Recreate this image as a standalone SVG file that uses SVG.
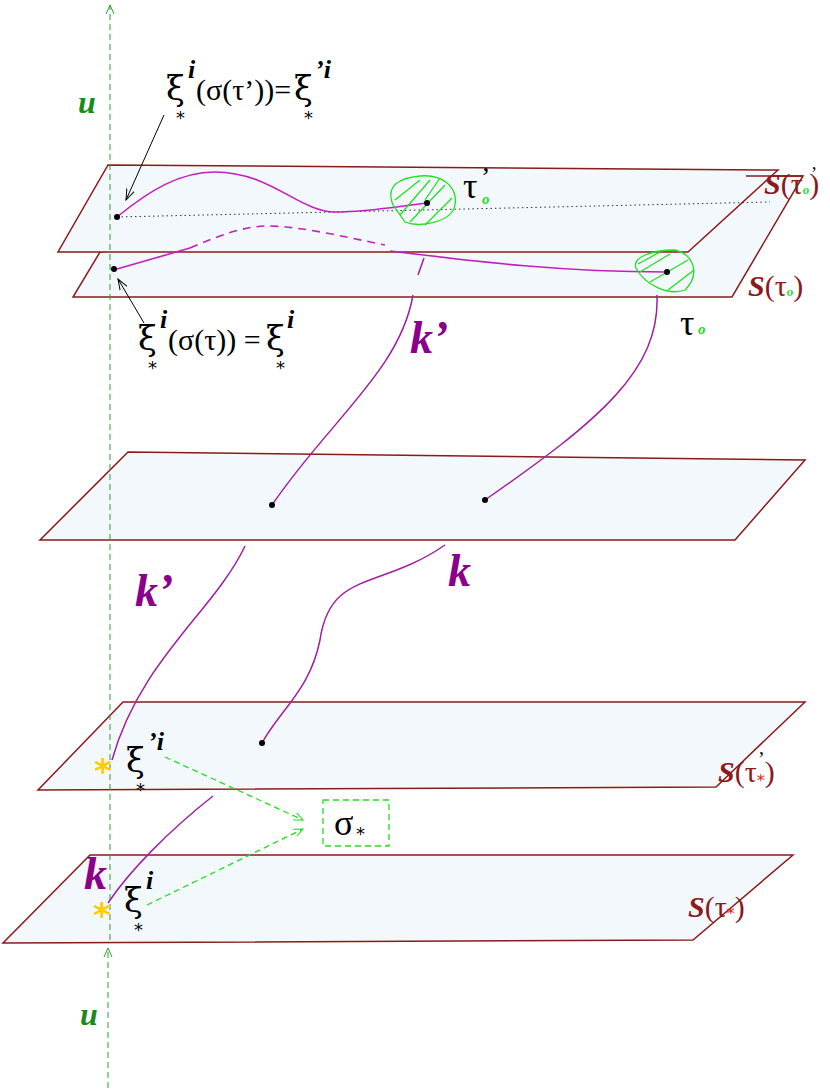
<svg xmlns="http://www.w3.org/2000/svg" width="830" height="1090" viewBox="0 0 830 1090">
<style>
.pl{fill:#f3f8fc;stroke:#8b1a1a;stroke-width:1.5}
.cv{fill:none;stroke:#a020a0;stroke-width:1.5}
.cv2{fill:none;stroke:#c020c0;stroke-width:1.6}
.ax{stroke:#2ca02c;stroke-width:1;stroke-dasharray:6 4;fill:none}
.gd{stroke:#20e020;stroke-width:1.3;stroke-dasharray:6 4;fill:none}
.t{font-family:"Liberation Serif",serif;fill:#000}
.x{font-family:"DejaVu Serif",serif;fill:#000;font-size:34px}
.sup{font-family:"Liberation Serif",serif;fill:#000;font-size:26px;font-style:italic;font-weight:bold}
.sub{font-family:"DejaVu Sans",sans-serif;fill:#000;font-size:18px}
.s{font-family:"Liberation Serif",serif;fill:#8b1a1a;font-size:30px}
.k{font-family:"Liberation Serif",serif;fill:#8b008b;font-weight:bold;font-style:italic;font-size:46px}
.u{font-family:"Liberation Serif",serif;fill:#1a8a1a;font-weight:bold;font-style:italic;font-size:32px}
</style>
<defs>
<marker id="ga" markerWidth="10" markerHeight="10" refX="9" refY="5" orient="auto" markerUnits="userSpaceOnUse"><path d="M0,1 L9,5 L0,9" fill="none" stroke="#20e020" stroke-width="1"/></marker>
<marker id="ba" markerWidth="12" markerHeight="10" refX="11" refY="5" orient="auto" markerUnits="userSpaceOnUse"><path d="M0,1 L11,5 L0,9" fill="none" stroke="#000" stroke-width="1"/></marker>
<marker id="ua" markerWidth="10" markerHeight="10" refX="9" refY="5" orient="auto" markerUnits="userSpaceOnUse"><path d="M0,1 L9,5 L0,9" fill="none" stroke="#2ca02c" stroke-width="1"/></marker>
</defs>
<g id="plane2"><polygon class="pl" points="100,252 740,176 803,176 732,297 73,297"/></g>
<g id="plane1"><polygon class="pl" points="108,165 778,170 688,252 58,252"/><line x1="746" y1="176" x2="803" y2="176" stroke="#8b1a1a" stroke-width="1.5"/></g>
<g id="plane3"><polygon class="pl" points="128,452 805,460 735,540 40,540"/></g>
<g id="plane4"><polygon class="pl" points="123,702 805,702 716,787 38,790"/></g>
<g id="plane5"><polygon class="pl" points="90,855 793,855 693,940 3,943"/></g>
<g id="connectors">
<line class="ax" x1="110" y1="940" x2="110" y2="5" marker-end="url(#ua)"/>
<line class="ax" x1="108" y1="1088" x2="108" y2="948" marker-end="url(#ua)"/>
<path d="M117,217 L770,202" stroke="#333" stroke-width="1" stroke-dasharray="1.5 3" fill="none"/>
<path class="cv2" d="M117,217 C150,190 180,172 215,172 C270,172 300,212 335,212 C370,212 400,206 427,203"/>
<path class="cv2" d="M117,269 L190,248"/>
<path class="cv2" d="M190,248 C220,235 245,226 268,226 C300,226 350,238 385,245" stroke-dasharray="8 6"/>
<path class="cv2" d="M390,251 C480,262 560,272 667,272"/>
<path class="cv" d="M424,258 L418,275"/>
<path class="cv" d="M413,295 C400,370 330,420 272,505"/>
<path class="cv" d="M657,295 C660,370 600,420 485,500"/>
<path class="cv" d="M245,546 C215,610 140,660 112,760"/>
<path class="cv" d="M445,545 C380,590 330,570 320,640 C310,690 280,710 262,743"/>
<path class="cv" d="M213,796 C170,830 130,870 108,903"/>
<path class="gd" d="M165,757 L303,820" marker-end="url(#ga)"/>
<path class="gd" d="M147,905 L303,829" marker-end="url(#ga)"/>
<rect x="323" y="800" width="66" height="46" fill="none" stroke="#20e020" stroke-width="1.3" stroke-dasharray="6 4"/>
<line x1="164" y1="115" x2="126" y2="200" stroke="#000" stroke-width="1" marker-end="url(#ba)"/>
<line x1="144" y1="323" x2="118" y2="279" stroke="#000" stroke-width="1" marker-end="url(#ba)"/>
</g>
<g id="blobs" fill="none" stroke="#20e020" stroke-width="1.3">
<path d="M393,205 C385,185 400,178 420,176 C440,174 458,185 455,205 C452,222 420,228 405,222 Z"/>
<path d="M400,215 L430,180 M410,222 L445,185 M425,225 L452,198 M395,200 L420,180 M440,178 L425,200"/>
<path d="M636,268 C632,258 650,250 675,250 C695,255 700,275 685,290 C668,296 645,285 636,268 Z"/>
<path d="M640,272 L670,254 M650,282 L688,260 M668,290 L694,270 M638,264 L660,252"/>
</g>
<g id="dots" fill="#000">
<circle cx="117" cy="217" r="3"/><circle cx="427" cy="203" r="3"/><circle cx="114" cy="269" r="3"/><circle cx="667" cy="272" r="3"/>
<circle cx="272" cy="505" r="3"/><circle cx="485" cy="500" r="3"/><circle cx="262" cy="743" r="3"/>
</g>
<g id="stars" fill="#ffcc00" font-family="DejaVu Sans,sans-serif" font-size="34" font-weight="bold">
<text x="94" y="783">*</text><text x="93" y="927">*</text>
</g>
<g id="labels">
<text class="u" x="78" y="113">u</text>
<text class="u" x="80" y="1025">u</text>
<text class="x" x="166" y="100">ξ</text><text class="sup" x="188" y="78">i</text><text class="sub" x="176" y="124">*</text>
<text class="t" x="196" y="100" font-size="30">(σ(τ’))=</text><text class="x" x="294" y="100">ξ</text><text class="sup" x="315" y="78">’i</text><text class="sub" x="304" y="124">*</text>
<text class="x" x="138" y="350">ξ</text><text class="sup" x="160" y="328">i</text><text class="sub" x="148" y="374">*</text>
<text class="t" x="168" y="350" font-size="30">(σ(τ)) = </text><text class="x" x="266" y="350">ξ</text><text class="sup" x="287" y="328">i</text><text class="sub" x="276" y="374">*</text>
<text class="t" x="463" y="198" font-size="36">τ</text><text class="t" x="481" y="186" font-size="28">’</text><text x="482" y="204" font-family="Liberation Serif,serif" font-size="15" font-weight="bold" font-style="italic" fill="#20e020">o</text>
<text class="t" x="680" y="335" font-size="36">τ</text><text x="698" y="334" font-family="Liberation Serif,serif" font-size="15" font-weight="bold" font-style="italic" fill="#20e020">o</text>
<text class="s" x="764" y="194"><tspan font-weight="bold" font-style="italic">S</tspan>(τ<tspan font-size="13" fill="#20e020" font-weight="bold" font-style="italic">o</tspan>)</text>
<text class="t" x="811" y="180" font-size="18" fill="#8b1a1a">’</text>
<text class="s" x="748" y="296"><tspan font-weight="bold" font-style="italic">S</tspan>(τ<tspan font-size="13" fill="#20e020" font-weight="bold" font-style="italic">o</tspan>)</text>
<text class="s" x="718" y="782"><tspan font-weight="bold" font-style="italic">S</tspan>(τ<tspan font-size="16" fill="#e02020" font-family="DejaVu Sans,sans-serif" dy="4">*</tspan><tspan dy="-4">)</tspan></text>
<text class="t" x="758" y="766" font-size="20" fill="#8b1a1a">’</text>
<text class="s" x="688" y="917"><tspan font-weight="bold" font-style="italic">S</tspan>(τ<tspan font-size="16" fill="#e02020" font-family="DejaVu Sans,sans-serif" dy="2">*</tspan><tspan dy="-2">)</tspan></text>
<text class="k" x="410" y="353">k’</text>
<text class="k" x="135" y="606">k’</text>
<text class="k" x="448" y="586">k</text>
<text class="k" x="84" y="889">k</text>
<text class="x" x="126" y="772">ξ</text><text class="sup" x="148" y="750">’i</text><text class="sub" x="136" y="796">*</text>
<text class="x" x="124" y="912">ξ</text><text class="sup" x="146" y="889">i</text><text class="sub" x="134" y="936">*</text>
<text class="t" x="334" y="835" font-size="36">σ</text><text class="sub" x="356" y="840">*</text>
</g>
</svg>
